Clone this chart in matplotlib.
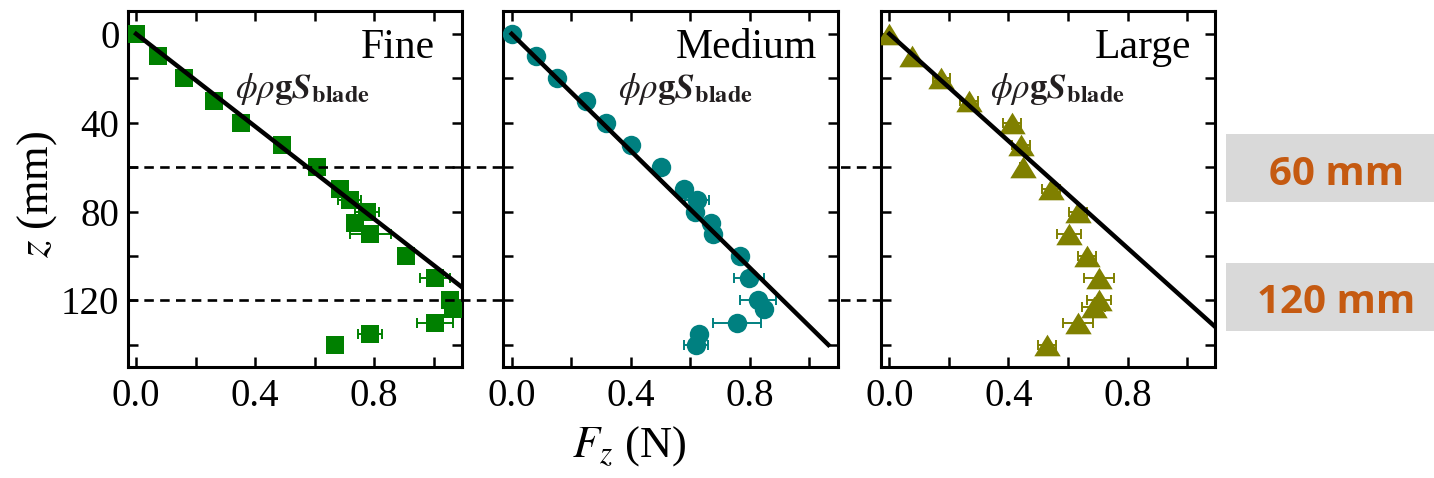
import numpy as np
import matplotlib
matplotlib.use('Agg')
import matplotlib.pyplot as plt
import matplotlib.transforms as mtransforms
from matplotlib.patches import Rectangle
from matplotlib.ticker import MultipleLocator

plt.rcParams['font.family'] = ['Liberation Serif', 'DejaVu Serif']
plt.rcParams['mathtext.fontset'] = 'stix'

# depth z (mm) and force Fz (N)
fine_z = [0, 10, 20, 30, 40, 50, 60, 70, 75, 80, 85, 90, 100, 110, 120, 124, 130, 135, 140]
fine_F = [0.0, 0.075, 0.162, 0.262, 0.352, 0.491, 0.608, 0.686, 0.717, 0.776, 0.736, 0.787,
          0.907, 1.004, 1.054, 1.066, 1.004, 0.787, 0.667]
fine_err = [0, 0, 0, 0, 0, 0, 0, 0.01, 0.04, 0.04, 0.02, 0.068, 0.01, 0.05, 0.02, 0.02, 0.06, 0.04, 0.01]

medium_z = [0, 10, 20, 30, 40, 50, 60, 70, 75, 80, 85, 90, 100, 110, 120, 124, 130, 135, 140]
medium_F = [0.0, 0.082, 0.151, 0.249, 0.317, 0.40, 0.501, 0.58, 0.624, 0.616, 0.669, 0.677,
            0.766, 0.798, 0.828, 0.848, 0.758, 0.63, 0.619]
medium_err = [0, 0, 0, 0, 0, 0, 0, 0, 0.04, 0.01, 0.01, 0.01, 0.01, 0.05, 0.06, 0.02, 0.08, 0.02, 0.04]

large_z = [0, 10, 20, 30, 40, 50, 60, 70, 80, 90, 100, 110, 120, 123, 130, 140]
large_F = [0.0, 0.077, 0.175, 0.268, 0.411, 0.441, 0.45, 0.542, 0.635, 0.603, 0.663, 0.703,
           0.703, 0.686, 0.633, 0.53]
large_err = [0, 0.01, 0.03, 0.03, 0.03, 0.03, 0.01, 0.03, 0.03, 0.04, 0.03, 0.05, 0.04, 0.04, 0.05, 0.03]

# phi*rho*g*S_blade reference lines
line_z = [0, 140]
fine_line = [0, 1.344]
medium_line = [0, 1.064]
large_line = [0, 1.162]

labels = ['Fine', 'Medium', 'Large']
colors = ['#008000', '#008080', '#808000']
tri = [(-1, -0.82), (1, -0.82), (0, 0.82)]
markers = ['s', 'o', tri]
msizes = [13, 14, 19]

fig = plt.figure(figsize=(14.34, 4.78), dpi=100)
lefts = [0.0891, 0.3510, 0.6144]
axes = [fig.add_axes([l, 0.232, 0.2331, 0.745]) for l in lefts]

data = [(fine_F, fine_z, fine_err, fine_line),
        (medium_F, medium_z, medium_err, medium_line),
        (large_F, large_z, large_err, large_line)]
lab_x = [0.92, 0.938, 0.928]
phi_x = [0.321, 0.344, 0.327]

for i, ax in enumerate(axes):
    F, z, err, fl = data[i]
    ax.errorbar(F, z, xerr=err, fmt='none', ecolor=colors[i], elinewidth=1.4,
                capsize=3.5, capthick=1.4, zorder=2)
    ax.plot(F, z, linestyle='none', marker=markers[i], ms=msizes[i], color=colors[i],
            mec=colors[i], mew=0, zorder=3)
    ax.plot(fl, line_z, color='black', lw=3.2, zorder=4)
    ax.set_xlim(-0.028, 1.095)
    ax.set_ylim(150, -10.3)
    ax.xaxis.set_major_locator(MultipleLocator(0.4))
    ax.xaxis.set_minor_locator(MultipleLocator(0.2))
    ax.yaxis.set_major_locator(MultipleLocator(40))
    ax.yaxis.set_minor_locator(MultipleLocator(20))
    ax.set_xticks([0.0, 0.4, 0.8])
    ax.set_xticklabels(['0.0', '0.4', '0.8'])
    ax.tick_params(which='both', direction='in', top=True, right=True, length=7.5, width=1.8,
                   labelsize=28)
    ax.tick_params(axis='x', pad=8)
    ax.tick_params(axis='y', pad=6)
    for s in ax.spines.values():
        s.set_linewidth(2.2)
    if i > 0:
        ax.set_yticklabels([])
    ax.text(lab_x[i], 0.868, labels[i], transform=ax.transAxes, ha='right', va='baseline',
            fontsize=30)
    ax.text(phi_x[i], 0.755, r'$\phi\rho\mathbf{g}\mathbfit{S}_{\mathbf{blade}}$',
            transform=ax.transAxes, ha='left', va='baseline', fontsize=25, color='#231f20')

# dashed depth markers spanning all panels
trans = mtransforms.blended_transform_factory(fig.transFigure, axes[0].transData)
for zd in [60, 120]:
    axes[0].plot([0.089, 0.847], [zd, zd], transform=trans, clip_on=False, color='black',
                 lw=1.9, linestyle=(0, (3.6, 2.4)), zorder=5)

fig.text(0.026, 0.594, r'$z$ (mm)', rotation=90, ha='center', va='center', fontsize=32)
fig.text(0.3987, 0.0446, r'$F_z$ (N)', ha='left', va='baseline', fontsize=32)

# grey annotation boxes
for y0, txt, yb in [(0.5774, '60 mm', 0.613), (0.3075, '120 mm', 0.3445)]:
    fig.patches.append(Rectangle((0.855, y0), 0.145, 0.1423, transform=fig.transFigure,
                                 facecolor='#d9d9d9', edgecolor='none'))
    fig.text(0.932, yb, txt, ha='center', va='baseline', fontsize=29, fontweight='bold',
             family='Open Sans', color='#c55a11')

fig.savefig('out.png', dpi=100)
